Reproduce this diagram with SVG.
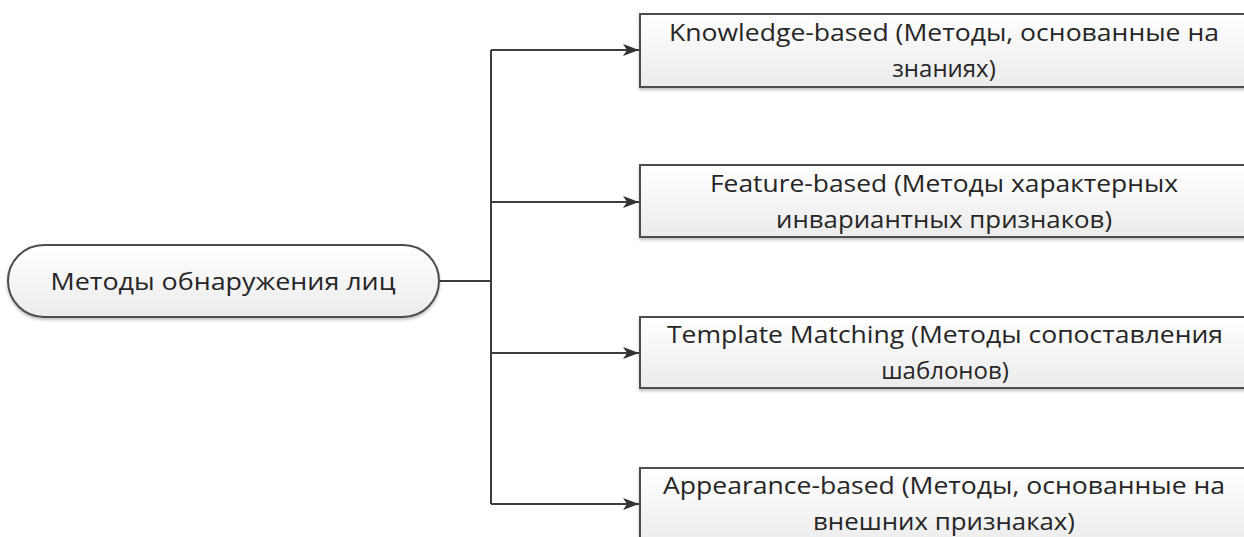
<svg xmlns="http://www.w3.org/2000/svg" width="1244" height="537" viewBox="0 0 1244 537">
  <style>
    .box { fill: url(#grad); stroke: #4d4d4d; stroke-width: 2; filter: url(#shadow); }
    .lbl { font-family: "Open Sans", "Noto Sans", "DejaVu Sans", sans-serif; font-size: 24px; fill: #262626; text-anchor: middle; }
    .conn { fill: none; stroke: #3d3d3d; stroke-width: 2; }
  </style>
  <defs>
    <linearGradient id="grad" x1="0" y1="0" x2="0" y2="1">
      <stop offset="0" stop-color="#ffffff"/>
      <stop offset="1" stop-color="#ebebeb"/>
    </linearGradient>
    <filter id="shadow" x="-5%" y="-20%" width="110%" height="150%">
      <feDropShadow dx="0" dy="2" stdDeviation="1.5" flood-color="#000000" flood-opacity="0.25"/>
    </filter>
    <marker id="arrow" viewBox="0 0 16 12" refX="16" refY="6" markerWidth="16" markerHeight="12" markerUnits="userSpaceOnUse" orient="auto">
      <path d="M0,0 L16,6 L0,12 L4,6 Z" fill="#333333"/>
    </marker>
  </defs>
  <rect width="1244" height="537" fill="#ffffff"/>

  <g id="connectors">
    <path class="conn" d="M439,281 H491"/>
    <path class="conn" d="M491,50 V504"/>
    <path class="conn" d="M491,50 H639" marker-end="url(#arrow)"/>
    <path class="conn" d="M491,202 H639" marker-end="url(#arrow)"/>
    <path class="conn" d="M491,353 H639" marker-end="url(#arrow)"/>
    <path class="conn" d="M491,504 H639" marker-end="url(#arrow)"/>
  </g>

  <g id="root">
    <rect class="box" x="8" y="245" width="431" height="72" rx="36" ry="36"/>
    <text class="lbl" x="223" y="290" textLength="345" lengthAdjust="spacingAndGlyphs">Методы обнаружения лиц</text>
  </g>

  <g id="knowledge">
    <rect class="box" x="640" y="14" width="610" height="73"/>
    <text class="lbl" x="944" y="41" textLength="550" lengthAdjust="spacingAndGlyphs">Knowledge-based (Методы, основанные на</text>
    <text class="lbl" x="944" y="77">знаниях)</text>
  </g>

  <g id="feature">
    <rect class="box" x="640" y="165" width="610" height="72"/>
    <text class="lbl" x="944" y="192" textLength="468" lengthAdjust="spacingAndGlyphs">Feature-based (Методы характерных</text>
    <text class="lbl" x="944" y="228" textLength="336" lengthAdjust="spacingAndGlyphs">инвариантных признаков)</text>
  </g>

  <g id="template">
    <rect class="box" x="640" y="317" width="610" height="71"/>
    <text class="lbl" x="945" y="343" textLength="556" lengthAdjust="spacingAndGlyphs">Template Matching (Методы сопоставления</text>
    <text class="lbl" x="945" y="379">шаблонов)</text>
  </g>

  <g id="appearance">
    <rect class="box" x="640" y="468" width="610" height="80"/>
    <text class="lbl" x="944" y="494" textLength="562" lengthAdjust="spacingAndGlyphs">Appearance-based (Методы, основанные на</text>
    <text class="lbl" x="944" y="530" textLength="262" lengthAdjust="spacingAndGlyphs">внешних признаках)</text>
  </g>
</svg>
